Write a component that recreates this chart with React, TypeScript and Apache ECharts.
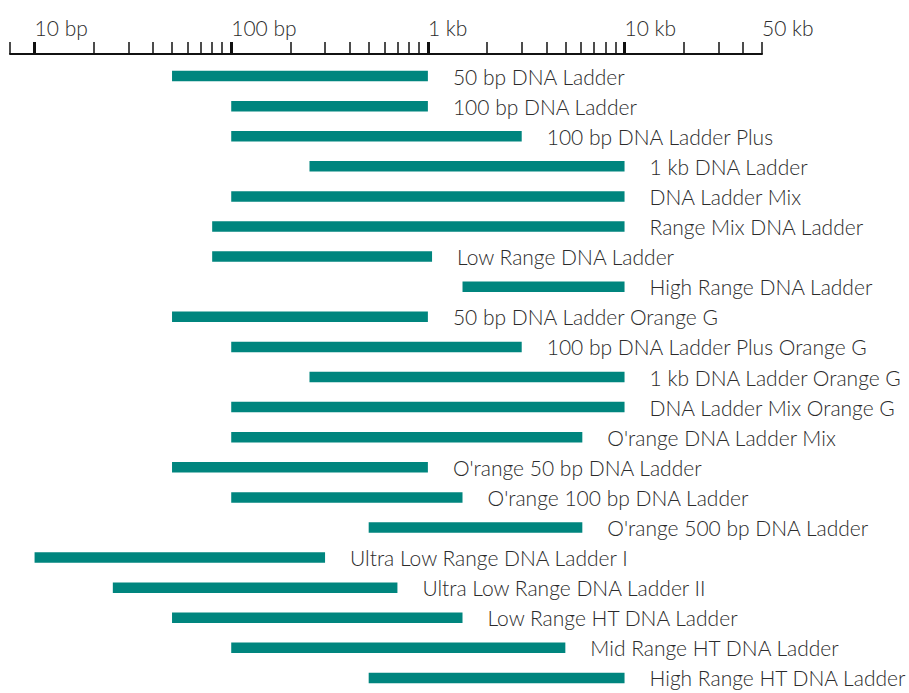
import React, { useEffect, useRef } from "react";
import * as echarts from "echarts";

const ladderNames: string[] = [
  "50 bp DNA Ladder",
  "100 bp DNA Ladder",
  "100 bp DNA Ladder Plus",
  "1 kb DNA Ladder",
  "DNA Ladder Mix",
  "Range Mix DNA Ladder",
  "Low Range DNA Ladder",
  "High Range DNA Ladder",
  "50 bp DNA Ladder Orange G",
  "100 bp DNA Ladder Plus Orange G",
  "1 kb DNA Ladder Orange G",
  "DNA Ladder Mix Orange G",
  "O'range DNA Ladder Mix",
  "O'range 50 bp DNA Ladder",
  "O'range 100 bp DNA Ladder",
  "O'range 500 bp DNA Ladder",
  "Ultra Low Range DNA Ladder I",
  "Ultra Low Range DNA Ladder II",
  "Low Range HT DNA Ladder",
  "Mid Range HT DNA Ladder",
  "High Range HT DNA Ladder",
];

// smallest fragment (bp)
const rangeStart: number[] = [
  50, 100, 100, 250, 100, 80, 80, 1500, 50, 100, 250, 100, 100, 50, 100, 500, 10, 25, 50, 100, 500,
];

// largest fragment (bp)
const rangeEnd: number[] = [
  1000, 1000, 3000, 10000, 10000, 10000, 1050, 10000, 1000, 3000, 10000, 10000, 6100, 1000, 1500, 6100, 300, 700, 1500, 5000, 10000,
];

const majorTicks: number[] = [10, 100, 1000, 10000];
const minorTicks: number[] = [
  7.5, 20, 30, 40, 50, 60, 70, 80, 90, 200, 300, 400, 500, 600, 700, 800, 900,
  2000, 3000, 4000, 5000, 6000, 7000, 8000, 9000, 20000, 30000, 40000, 50000,
];
const tickLabelValues: number[] = [10, 100, 1000, 10000, 50000];
const tickLabelTexts: string[] = ["10 bp", "100 bp", "1 kb", "10 kb", "50 kb"];

const BAR_COLOR = "#00857e";
const TEXT_COLOR = "#2b2b2b";
const FONT = "Lato";

export default function App() {
  const ref = useRef<HTMLDivElement>(null);

  useEffect(() => {
    if (!ref.current) return;
    const chart = echarts.init(ref.current, undefined, { renderer: "svg" });

    const data = ladderNames.map((_, i) => [i, rangeStart[i], rangeEnd[i]]);

    const axisCommon = {
      type: "log" as const,
      logBase: 10,
      min: 7.5,
      max: 50000,
      position: "top" as const,
      offset: 7,
      splitLine: { show: false },
    };

    chart.setOption({
      animation: false,
      grid: { left: 10, top: 61, width: 752, height: 635.25, containLabel: false },
      xAxis: [
        {
          ...axisCommon,
          axisLine: { show: true, lineStyle: { color: "#111", width: 2 } },
          axisTick: {
            show: true,
            customValues: minorTicks,
            length: 12,
            lineStyle: { color: "#111", width: 1.5 },
          },
          axisLabel: {
            show: true,
            customValues: tickLabelValues,
            formatter: (v: number) => {
              const idx = tickLabelValues.findIndex((t) => Math.abs(t - v) / t < 1e-6);
              return idx >= 0 ? tickLabelTexts[idx] : "";
            },
            align: "left",
            margin: 16,
            color: TEXT_COLOR,
            fontFamily: FONT,
            fontWeight: 300,
            fontSize: 21,
          },
        },
        {
          ...axisCommon,
          axisLine: { show: false },
          axisTick: {
            show: true,
            customValues: majorTicks,
            length: 12,
            lineStyle: { color: "#111", width: 3 },
          },
          axisLabel: { show: false },
        },
      ],
      yAxis: {
        type: "category",
        data: ladderNames,
        inverse: true,
        show: false,
      },
      series: [
        {
          type: "custom",
          xAxisIndex: 0,
          encode: { x: [1, 2], y: 0 },
          data,
          renderItem: (params: any, api: any) => {
            const i = api.value(0);
            const s = api.coord([api.value(1), i]);
            const e = api.coord([api.value(2), i]);
            const h = 10.5;
            return {
              type: "group",
              children: [
                {
                  type: "rect",
                  shape: { x: s[0], y: s[1] - h / 2, width: e[0] - s[0], height: h },
                  style: { fill: BAR_COLOR },
                },
                {
                  type: "text",
                  x: e[0] + 25,
                  y: s[1],
                  style: {
                    text: ladderNames[i],
                    fill: TEXT_COLOR,
                    fontFamily: FONT,
                    fontWeight: 300,
                    fontSize: 21,
                    align: "left",
                    verticalAlign: "middle",
                  },
                },
              ],
            };
          },
        },
      ],
    });

    return () => chart.dispose();
  }, []);

  return (
    <div
      ref={ref}
      style={{ position: "absolute", left: 0, top: 0, width: 909, height: 693, background: "#fff" }}
    />
  );
}
